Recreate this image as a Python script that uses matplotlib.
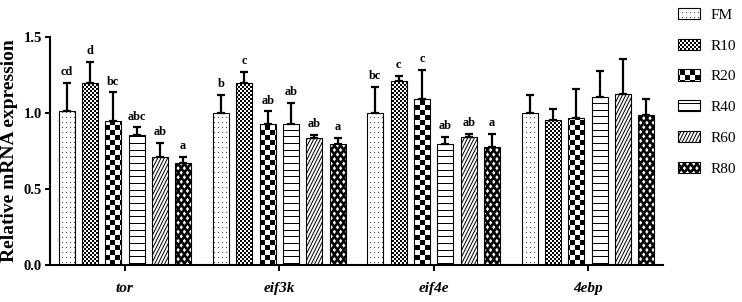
import warnings
warnings.filterwarnings('ignore')
import numpy as np
import matplotlib
matplotlib.use('Agg')
import matplotlib.pyplot as plt
import matplotlib.hatch as mhatch
from matplotlib.path import Path

# ---------------- data ----------------
genes = ['tor', 'eif3k', 'eif4e', '4ebp']
groups = ['FM', 'R10', 'R20', 'R40', 'R60', 'R80']

fm = [1.01, 1.00, 1.00, 1.00]
r10 = [1.20, 1.20, 1.21, 0.955]
r20 = [0.95, 0.925, 1.09, 0.965]
r40 = [0.855, 0.925, 0.795, 1.105]
r60 = [0.71, 0.835, 0.84, 1.125]
r80 = [0.67, 0.795, 0.775, 0.985]

fm_err = [0.19, 0.12, 0.17, 0.12]
r10_err = [0.135, 0.07, 0.035, 0.07]
r20_err = [0.185, 0.085, 0.195, 0.19]
r40_err = [0.05, 0.14, 0.05, 0.17]
r60_err = [0.095, 0.02, 0.022, 0.23]
r80_err = [0.04, 0.04, 0.085, 0.11]

fm_sig = ['cd', 'b', 'bc', '']
r10_sig = ['d', 'c', 'c', '']
r20_sig = ['bc', 'ab', 'c', '']
r40_sig = ['abc', 'ab', 'ab', '']
r60_sig = ['ab', 'ab', 'ab', '']
r80_sig = ['a', 'a', 'a', '']

values = [fm, r10, r20, r40, r60, r80]
errors = [fm_err, r10_err, r20_err, r40_err, r60_err, r80_err]
sigs = [fm_sig, r10_sig, r20_sig, r40_sig, r60_sig, r80_sig]

# ---------------- custom hatch patterns ----------------
HATCH_LW = 0.72           # points -> 1 px at dpi 100
plt.rcParams['hatch.linewidth'] = HATCH_LW
TILE = 100.0              # hatch tile size in px at dpi 100


class CustomHatch(mhatch.HatchPatternBase):
    def __init__(self, hatch, density):
        self._v = []
        self._c = []
        hatch = hatch or ''
        if 'Q' in hatch:
            self._checker(2.0)
        if 'K' in hatch:
            self._checker(5.0)
        if 'D' in hatch:
            self._dots()
        if 'H' in hatch:
            self._hlines(15)
        if 'S' in hatch:
            self._steep()
        if 'W' in hatch:
            self._holes()
        self.num_vertices = len(self._v)

    def _add(self, pts, closed=True):
        for k, (x, y) in enumerate(pts):
            self._v.append((x / TILE, 1.0 - y / TILE))
            self._c.append(Path.MOVETO if k == 0 else Path.LINETO)
        if closed:
            x, y = pts[0]
            self._v.append((x / TILE, 1.0 - y / TILE))
            self._c.append(Path.CLOSEPOLY)

    def _checker(self, c):
        n = int(round(TILE / c))
        for i in range(n):
            for j in range(n):
                if (i + j) % 2 == 0:
                    x0, y0 = i * c + 0.5, j * c + 0.5
                    x1, y1 = (i + 1) * c - 0.5, (j + 1) * c - 0.5
                    self._add([(x0, y0), (x1, y0), (x1, y1), (x0, y1)])

    def _dots(self):
        for i in range(25):
            for j in range(20):
                x, y = i * 4 + 2.5, j * 5 + 2.5
                d = 0.05
                self._add([(x - d, y - d), (x + d, y - d), (x + d, y + d), (x - d, y + d)])

    def _hlines(self, n):
        for j in range(n):
            y = round((j + 0.5) * TILE / n - 0.5) + 0.5
            self._add([(-2, y), (TILE + 2, y)], closed=False)

    def _steep(self):
        p = TILE / 30.0
        for k in range(-20, 36):
            x0 = k * p
            self._add([(x0 - 1, TILE + 2), (x0 + 51, -2)], closed=False)

    def _holes(self):
        self._add([(-10, -10), (110, -10), (110, 110), (-10, 110)])
        P = 6.25
        R = TILE / 22.0
        hw, hh = 2.3, 3.0
        for r in range(-1, 24):
            y = r * R
            off = (r % 2) * P / 2
            for k in range(-1, 18):
                x = off + k * P
                self._add([(x, y - hh), (x - hw, y), (x, y + hh), (x + hw, y)])

    def set_vertices_and_codes(self, vertices, codes):
        vertices[:] = np.asarray(self._v, float).reshape(-1, 2)
        codes[:] = np.asarray(self._c, dtype=Path.code_type)


mhatch._hatch_types.append(CustomHatch)

hatches = ['D', 'Q', 'K', 'H', 'S', 'W']

# ---------------- figure ----------------
plt.rcParams['font.family'] = ['Liberation Serif', 'DejaVu Serif']
fig = plt.figure(figsize=(7.42, 3.02), dpi=100)
ax = fig.add_axes([50 / 742, 1 - 265 / 302, (663 - 50) / 742, (265 - 37) / 302])

x = np.arange(len(genes))
pitch = 0.151
width = 0.104
handles = []
for i, (g, vals, errs, sg, hp) in enumerate(zip(groups, values, errors, sigs, hatches)):
    pos = x + (i - 2.5) * pitch
    b = ax.bar(pos, vals, width, color='white', edgecolor='black', linewidth=0.8,
               hatch=hp, label=g, zorder=2)
    handles.append(b)
    ax.errorbar(pos, vals, yerr=[np.zeros(len(vals)), errs], fmt='none',
                ecolor='black', elinewidth=1.6, capsize=2.6, capthick=1.6, zorder=3)
    for px_, v, e, s in zip(pos, vals, errs, sg):
        if s:
            ax.annotate(s, (px_, v + e), xytext=(0, 3.5), textcoords='offset points',
                        ha='center', va='bottom', fontsize=8.8, fontweight='bold')

ax.set_xlim(-0.485, 3.485)
ax.set_ylim(0, 1.5)
ax.set_yticks([0, 0.5, 1.0, 1.5])
ax.set_yticklabels(['0.0', '0.5', '1.0', '1.5'])
ax.set_xticks(x)
ax.set_xticklabels(genes, fontstyle='italic', fontweight='bold', fontsize=11)
for lab in ax.get_yticklabels():
    lab.set_fontweight('bold')
    lab.set_fontsize(10.5)
ax.tick_params(axis='y', length=3.5, width=1.4, pad=2.5)
ax.tick_params(axis='x', length=4, width=1.4, pad=8)
for sp in ['top', 'right']:
    ax.spines[sp].set_visible(False)
for sp in ['left', 'bottom']:
    ax.spines[sp].set_linewidth(1.5)
ax.set_ylabel('Relative mRNA expression', fontsize=14, fontweight='bold', labelpad=4)

fig.legend(handles, groups, loc='upper left', bbox_to_anchor=(678 / 742, 1 - 8 / 302),
           bbox_transform=fig.transFigure, frameon=False, fontsize=11,
           handlelength=1.45, handleheight=0.75, handletextpad=0.7, labelspacing=1.1,
           borderpad=0, borderaxespad=0)

fig.savefig('out.png', dpi=100)
